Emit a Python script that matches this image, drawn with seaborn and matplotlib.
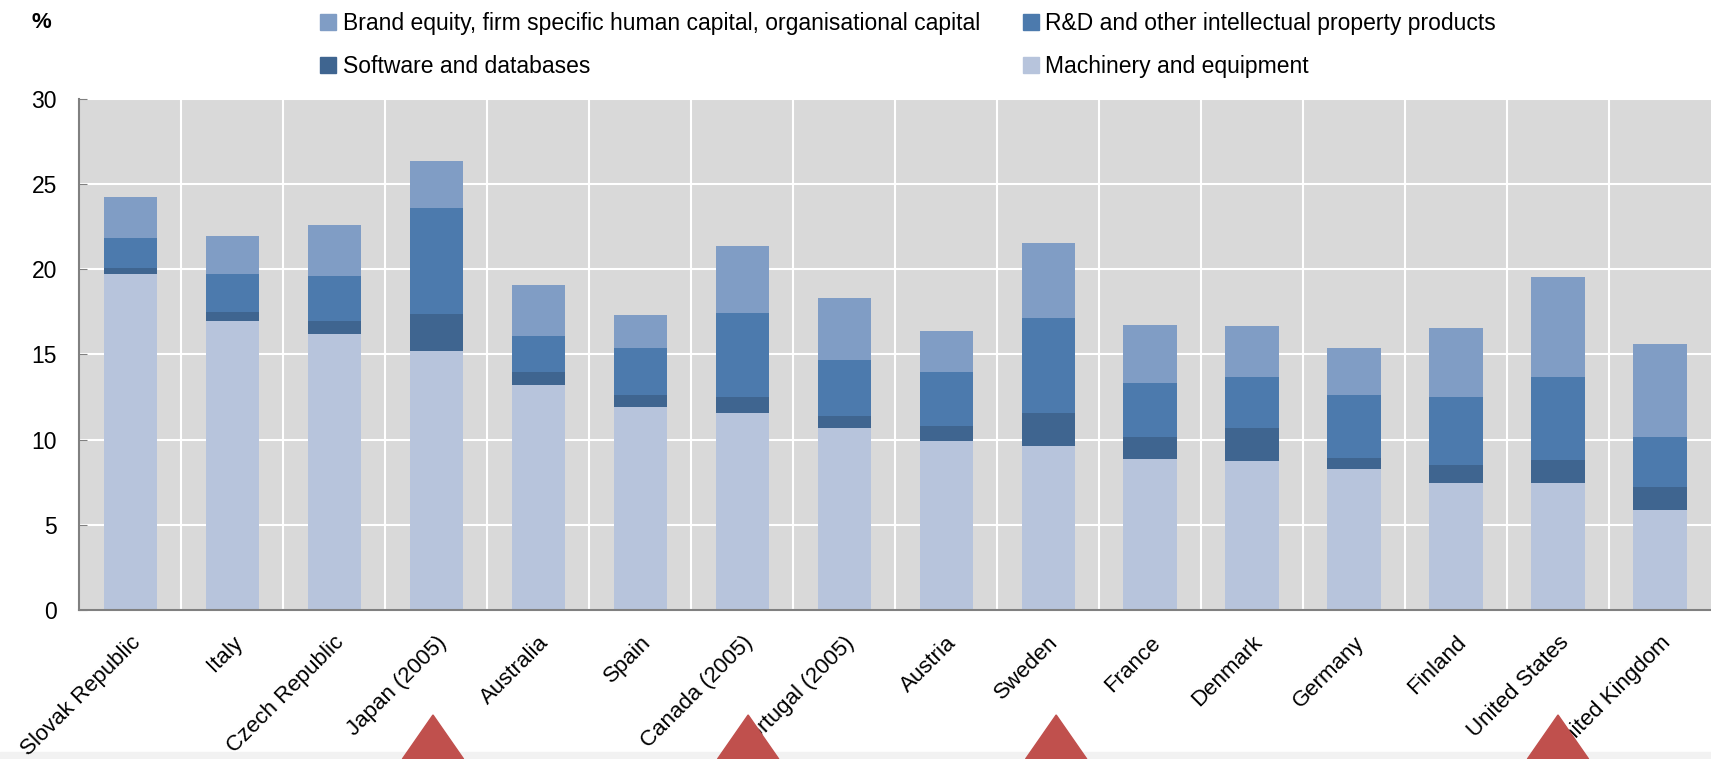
import numpy as np
import pandas as pd
import matplotlib
matplotlib.use("Agg")
import matplotlib.pyplot as plt
import matplotlib.transforms as mtransforms
from matplotlib.patches import Patch, Polygon, Rectangle
import seaborn as sns

# Intangible / tangible investment by asset type, % of value added
countries = ["Slovak Republic", "Italy", "Czech Republic", "Japan (2005)", "Australia",
             "Spain", "Canada (2005)", "Portugal (2005)", "Austria", "Sweden", "France",
             "Denmark", "Germany", "Finland", "United States", "United Kingdom"]
machinery = [19.75, 16.94, 16.20, 15.22, 13.23, 11.89, 11.59, 10.71, 9.92, 9.62, 8.87,
             8.76, 8.30, 7.44, 7.44, 5.89]
software = [0.33, 0.54, 0.74, 2.18, 0.73, 0.73, 0.93, 0.69, 0.88, 1.97, 1.26,
            1.93, 0.63, 1.05, 1.39, 1.36]
rnd = [1.74, 2.27, 2.68, 6.18, 2.14, 2.79, 4.94, 3.30, 3.16, 5.56, 3.20,
       2.96, 3.69, 4.03, 4.82, 2.90]
brand = [2.44, 2.18, 3.00, 2.77, 2.96, 1.93, 3.92, 3.60, 2.39, 4.40, 3.40,
         3.00, 2.79, 4.06, 5.89, 5.45]

series = ["Machinery and equipment", "Software and databases",
          "R&D and other intellectual property products",
          "Brand equity, firm specific human capital, organisational capital"]
colors = {series[0]: "#b7c4dc", series[1]: "#3f6590",
          series[2]: "#4c7aad", series[3]: "#809dc5"}

df = pd.DataFrame({"country": countries, series[0]: machinery, series[1]: software,
                   series[2]: rnd, series[3]: brand})
# cumulative tops for stacking
cum = df[series].cumsum(axis=1)
cum["country"] = df["country"]

plt.rcParams["font.family"] = ["Liberation Sans", "DejaVu Sans"]
fig = plt.figure(figsize=(17.11, 7.59), dpi=100)
ax = fig.add_axes([0.0462, 0.1963, 0.9538, 0.6733])
ax.set_facecolor("#d9d9d9")

# draw the tallest layer first, then overlay the lower cumulative layers
for s in reversed(series):
    sns.barplot(data=cum, x="country", y=s, color=colors[s], saturation=1,
                width=0.52, ax=ax, linewidth=0)

ax.set_ylim(0, 30)
ax.set_xlim(-0.5, len(countries) - 0.5)
ax.set_yticks(range(0, 31, 5))
ax.set_axisbelow(True)
ax.yaxis.grid(True, color="white", linewidth=1.5)
ax.set_xticks(np.arange(0.5, len(countries) - 1, 1), minor=True)
ax.xaxis.grid(True, which="minor", color="white", linewidth=1.5)
ax.xaxis.grid(False, which="major")
ax.tick_params(axis="x", which="both", length=0)
ax.tick_params(axis="y", direction="in", length=6, color="#808080", pad=16,
               labelsize=16.5)
ax.set_xlabel("")
ax.set_ylabel("")
for side in ["top", "right"]:
    ax.spines[side].set_visible(False)
for side in ["left", "bottom"]:
    ax.spines[side].set_color("#808080")
    ax.spines[side].set_linewidth(1.5)

ax.set_xticks(range(len(countries)))
ax.set_xticklabels(countries, rotation=45, ha="right", va="top",
                   rotation_mode="anchor", fontsize=16)
ax.tick_params(axis="x", pad=16)

fig.text(0.024, 0.971, "%", fontsize=16, fontweight="bold", ha="center", va="center")

handles = [Patch(color=colors[series[3]], label=series[3]),
           Patch(color=colors[series[1]], label=series[1]),
           Patch(color=colors[series[2]], label=series[2]),
           Patch(color=colors[series[0]], label=series[0])]
fig.legend(handles=handles, loc="upper left", bbox_to_anchor=(0.187, 0.984), ncol=2,
           frameon=False, fontsize=16.5, handlelength=0.7, handleheight=0.7,
           handletextpad=0.3, columnspacing=1.85, labelspacing=0.85, borderpad=0,
           borderaxespad=0)

# red marker triangles and light strip along the bottom edge
fig.add_artist(Rectangle((0, 0), 1, 0.009, transform=fig.transFigure,
                         color="#f2f2f2", zorder=0))
trans = mtransforms.blended_transform_factory(ax.transData, fig.transFigure)
for xm in [2.97, 6.06, 9.08, 14.0]:
    fig.add_artist(Polygon([[xm - 0.3, 0], [xm + 0.3, 0], [xm, 0.058]], closed=True,
                           transform=trans, color="#c0504d", zorder=5))

fig.savefig("out.png", dpi=100)
